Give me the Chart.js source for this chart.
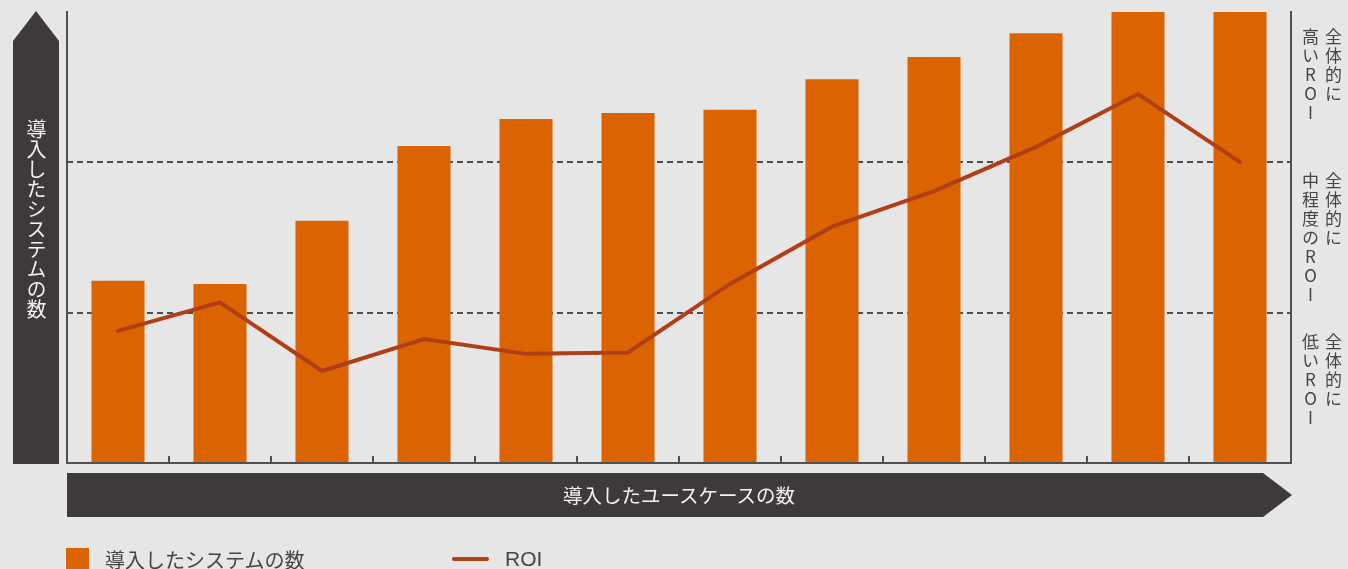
<!DOCTYPE html>
<html lang="ja">
<head>
<meta charset="utf-8">
<script src="https://cdn.jsdelivr.net/npm/chart.js@4/dist/chart.umd.min.js"></script>
<style>
  html, body { margin: 0; padding: 0; background: #e6e6e6; }
  body {
    width: 1348px; height: 569px; overflow: hidden; position: relative;
    font-family: "Liberation Sans", "Noto Sans CJK JP", sans-serif;
  }
  #myChart { position: absolute; left: 0; top: 0; }
  .vtext {
    position: absolute;
    writing-mode: vertical-rl;
    text-orientation: upright;
    font-family: "Noto Sans CJK JP", sans-serif;
    white-space: nowrap;
  }
  #yTitle { left: 26px; top: 119px; font-size: 20px; line-height: 20px; color: #f2f2f2; }
  #xTitle {
    position: absolute; left: 679px; top: 495px; transform: translate(-50%, -50%);
    font-family: "Noto Sans CJK JP", sans-serif; font-size: 19.5px; line-height: 20px;
    color: #f2f2f2; white-space: nowrap;
  }
  .band { left: 1299px; font-size: 17px; line-height: 23px; letter-spacing: 2px; color: #454545; }
  #legend {
    position: absolute; left: 66px; top: 548px; height: 22px;
    display: flex; align-items: center; color: #454545;
  }
  .item { display: flex; align-items: center; }
  .swatch-bar { width: 23px; height: 23px; margin-right: 16px; }
  .swatch-line { width: 37px; height: 4px; border-radius: 2px; margin-right: 16px; }
  .item span { white-space: nowrap; }
</style>
</head>
<body>
<canvas id="myChart" width="1348" height="569"></canvas>
<div id="yTitle" class="vtext"></div>
<div id="xTitle"></div>
<div id="bands"></div>
<div id="legend"></div>

<script>
// 導入したユースケースの数 (steps along the x axis, no tick labels shown)
const useCases = ['1', '2', '3', '4', '5', '6', '7', '8', '9', '10', '11', '12'];
// 導入したシステムの数 (bars, relative scale 0-100)
const systemCounts = [40.4, 39.7, 53.7, 70.3, 76.3, 77.6, 78.3, 85.1, 90.0, 95.3, 100, 100];
// ROI (line, same relative scale)
const roiValues = [29.3, 35.6, 20.4, 27.5, 24.2, 24.5, 39.7, 52.4, 60.3, 70.1, 81.8, 66.7];
// borders between low / medium / high ROI
const roiThresholds = [33.3, 66.7];
const bandLabels = [
  ['全体的に', '高いROI'],
  ['全体的に', '中程度のROI'],
  ['全体的に', '低いROI']
];
const seriesNames = ['導入したシステムの数', 'ROI'];
const xTitle = '導入したユースケースの数';
const yTitle = '導入したシステムの数';

const barColor = '#db6400';
const lineColor = '#b03f17';
const darkColor = '#3e3a39';
const axisColor = '#505050';

const framePlugin = {
  id: 'frame',
  beforeDraw(chart) {
    const ctx = chart.ctx;
    const ca = chart.chartArea;
    ctx.save();
    ctx.fillStyle = darkColor;
    // vertical arrow on the left
    ctx.beginPath();
    ctx.moveTo(ca.left - 54, ca.top + 29);
    ctx.lineTo(ca.left - 31, ca.top - 1);
    ctx.lineTo(ca.left - 8, ca.top + 29);
    ctx.lineTo(ca.left - 8, ca.bottom + 1);
    ctx.lineTo(ca.left - 54, ca.bottom + 1);
    ctx.closePath();
    ctx.fill();
    // horizontal arrow under the plot
    ctx.beginPath();
    ctx.moveTo(ca.left, ca.bottom + 10);
    ctx.lineTo(ca.right - 28, ca.bottom + 10);
    ctx.lineTo(ca.right + 1, ca.bottom + 32);
    ctx.lineTo(ca.right - 28, ca.bottom + 54);
    ctx.lineTo(ca.left, ca.bottom + 54);
    ctx.closePath();
    ctx.fill();
    ctx.restore();
  },
  beforeDatasetsDraw(chart) {
    const ctx = chart.ctx;
    const ca = chart.chartArea;
    const y = chart.scales.y;
    ctx.save();
    ctx.strokeStyle = '#4d4d4d';
    ctx.lineWidth = 2;
    ctx.setLineDash([6, 4]);
    roiThresholds.forEach(v => {
      const py = Math.round(y.getPixelForValue(v));
      ctx.beginPath();
      ctx.moveTo(ca.left, py);
      ctx.lineTo(ca.right, py);
      ctx.stroke();
    });
    ctx.restore();
  },
  afterDatasetsDraw(chart) {
    const ctx = chart.ctx;
    const ca = chart.chartArea;
    const x = chart.scales.x;
    ctx.save();
    ctx.strokeStyle = axisColor;
    ctx.lineWidth = 2;
    ctx.beginPath();
    ctx.moveTo(ca.left, ca.top - 1);
    ctx.lineTo(ca.left, ca.bottom);
    ctx.lineTo(ca.right, ca.bottom);
    ctx.lineTo(ca.right, ca.top - 1);
    ctx.stroke();
    // small ticks between the categories, pointing up
    for (let i = 0; i < useCases.length - 1; i++) {
      const px = Math.round((x.getPixelForValue(i) + x.getPixelForValue(i + 1)) / 2);
      ctx.beginPath();
      ctx.moveTo(px, ca.bottom - 7);
      ctx.lineTo(px, ca.bottom);
      ctx.stroke();
    }
    ctx.restore();
  }
};

const ctx = document.getElementById('myChart').getContext('2d');

const myChart = new Chart(ctx, {
  type: 'bar',
  data: {
    labels: useCases,
    datasets: [{
      type: 'bar',
      label: seriesNames[0],
      data: systemCounts,
      backgroundColor: barColor,
      barPercentage: 0.52,
      categoryPercentage: 1,
      order: 2
    }, {
      type: 'line',
      label: seriesNames[1],
      data: roiValues,
      borderColor: lineColor,
      backgroundColor: lineColor,
      borderWidth: 4,
      borderCapStyle: 'round',
      pointRadius: 0,
      tension: 0,
      order: 1
    }]
  },
  options: {
    responsive: false,
    animation: false,
    layout: { padding: { left: 67, right: 57, top: 12, bottom: 106 } },
    scales: {
      x: { display: false, offset: true },
      y: { display: false, min: 0, max: 100 }
    },
    plugins: {
      legend: { display: false },
      tooltip: { enabled: false }
    }
  },
  plugins: [framePlugin]
});

// texts as real text
document.getElementById('yTitle').textContent = yTitle;
document.getElementById('xTitle').textContent = xTitle;

const bandTops = [28, 172, 333];
const bandsEl = document.getElementById('bands');
bandLabels.forEach((lines, i) => {
  const d = document.createElement('div');
  d.className = 'vtext band';
  d.style.top = bandTops[i] + 'px';
  d.innerHTML = lines.join('<br>');
  bandsEl.appendChild(d);
});

const legendEl = document.getElementById('legend');
myChart.data.datasets.forEach((ds, i) => {
  const item = document.createElement('div');
  item.className = 'item';
  const sw = document.createElement('div');
  if (ds.type === 'bar') {
    sw.className = 'swatch-bar';
    sw.style.background = ds.backgroundColor;
  } else {
    sw.className = 'swatch-line';
    sw.style.background = ds.borderColor;
  }
  const label = document.createElement('span');
  label.textContent = ds.label;
  if (ds.type === 'bar') {
    label.style.fontSize = '20px';
    item.style.width = '386px';
  } else {
    label.style.fontSize = '21px';
  }
  item.appendChild(sw);
  item.appendChild(label);
  legendEl.appendChild(item);
});
</script>
</body>
</html>
